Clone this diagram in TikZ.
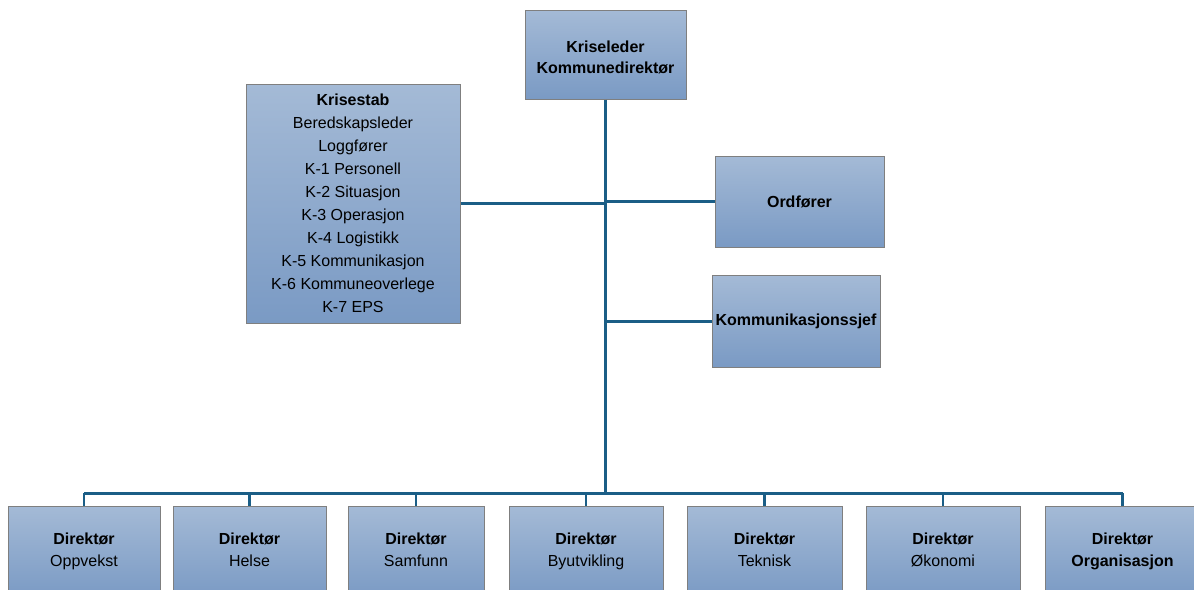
\documentclass[tikz,border=0pt]{standalone}
\usepackage{fontspec}
\setmainfont{Liberation Sans}
\definecolor{boxtop}{HTML}{A4BAD6}
\definecolor{boxbot}{HTML}{7A9AC4}
\definecolor{boxline}{HTML}{7F7F7F}
\definecolor{conn}{HTML}{1B5E86}
\tikzset{
  orgbox/.style={draw=boxline, line width=1pt, top color=boxtop, bottom color=boxbot,
    inner sep=2pt, align=center, font=\fontsize{16}{23}\selectfont,
    execute at begin node={\setlength{\baselineskip}{23pt}}},
  lnk/.style={draw=conn, line width=3pt},
  drop/.style={draw=conn, line width=2.5pt},
  dirbox/.style={orgbox, minimum height=92pt, text height=33pt, text depth=5pt},
}
\begin{document}
\begin{tikzpicture}[x=1pt,y=-1pt]
\useasboundingbox (0,0) rectangle (1194,589);
\clip (0,0) rectangle (1194,589);
\fill[white] (0,0) rectangle (1194,589);
% top
\node[orgbox, minimum width=161pt, minimum height=89pt, text height=42pt, text depth=5pt] (leder) at (605.5,54.5)
  {\textbf{Kriseleder}\\[-2pt]\textbf{Kommunedirektør}};
\node[orgbox, minimum width=214pt, minimum height=239pt] (stab) at (353,203.5)
  {\textbf{Krisestab}\\Beredskapsleder\\Loggfører\\K-1 Personell\\K-2 Situasjon\\K-3 Operasjon\\K-4 Logistikk\\K-5 Kommunikasjon\\K-6 Kommuneoverlege\\K-7 EPS};
\node[orgbox, minimum width=169pt, minimum height=91pt] (ord) at (799.5,201.5)
  {\textbf{Ordfører}};
\node[orgbox, minimum width=168pt, minimum height=92pt] (kom) at (796,321)
  {\textbf{Kommunikasjonssjef}};
% bottom
\node[dirbox, minimum width=152pt] (d1) at (84,552)
  {\textbf{Direktør}\\[-1pt]Oppvekst};
\node[dirbox, minimum width=153pt] (d2) at (249.5,552)
  {\textbf{Direktør}\\[-1pt]Helse};
\node[dirbox, minimum width=136pt] (d3) at (416,552)
  {\textbf{Direktør}\\[-1pt]Samfunn};
\node[dirbox, minimum width=154pt] (d4) at (586,552)
  {\textbf{Direktør}\\[-1pt]Byutvikling};
\node[dirbox, minimum width=155pt] (d5) at (764.5,552)
  {\textbf{Direktør}\\[-1pt]Teknisk};
\node[dirbox, minimum width=154pt] (d6) at (943,552)
  {\textbf{Direktør}\\[-1pt]Økonomi};
\node[dirbox, minimum width=155pt] (d7) at (1122.5,552)
  {\textbf{Direktør}\\[-1pt]\textbf{Organisasjon}};
% connectors
\coordinate (bus) at (605.5,493);
\draw[lnk] (stab.east) -- (stab.east -| leder.south);
\draw[lnk] (ord.west) -- (ord.west -| leder.south);
\draw[lnk] (kom.west) -- (kom.west -| leder.south);
\draw[lnk] (d1.north |- bus) -- (d7.north |- bus);
\foreach \d in {d1,d2,d3,d4,d5,d6,d7}
  \draw[drop] (\d.north) -- (\d.north |- bus);
\draw[draw=conn, line width=3.5pt] (leder.south) -- (leder.south |- bus);
\end{tikzpicture}
\end{document}
